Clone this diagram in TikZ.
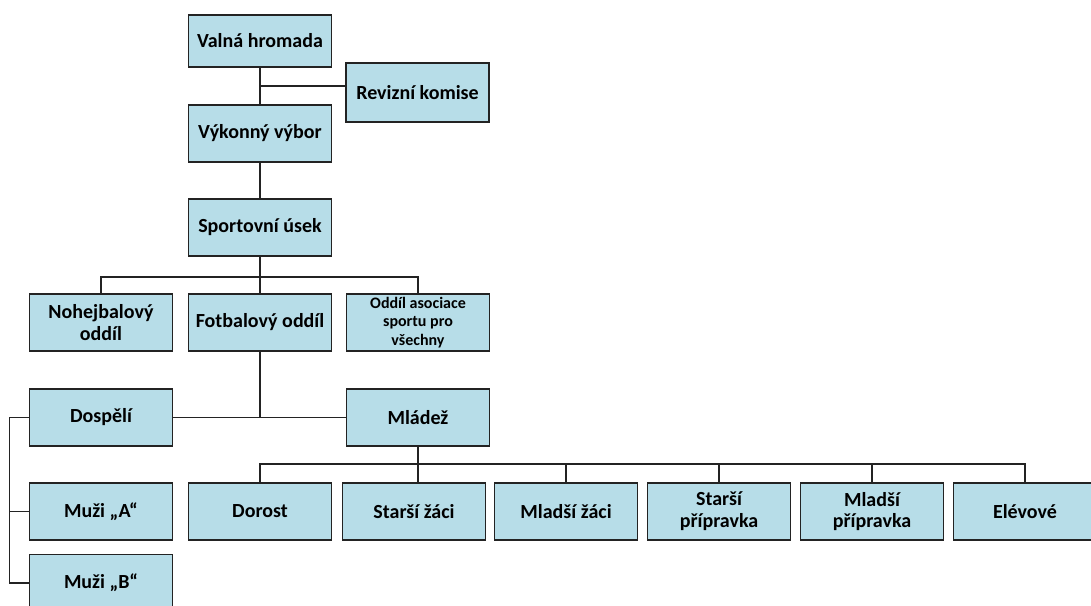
\documentclass[tikz,border=0pt]{standalone}
\usepackage{fontspec}
\setmainfont{Carlito}
\usetikzlibrary{positioning, calc}
\definecolor{boxblue}{RGB}{183, 221, 232}
\definecolor{edgegray}{RGB}{35, 35, 35}
\tikzset{
  orgbox/.style={draw=edgegray, fill=boxblue, line width=0.9pt, text=black,
    minimum width=107.25pt, minimum height=42.75pt, align=center, inner sep=2pt,
    font=\fontsize{15}{16.3}\selectfont\bfseries},
  smallbox/.style={orgbox, font=\fontsize{12}{14}\selectfont\bfseries},
  link/.style={draw=edgegray, line width=0.9pt}
}

\begin{document}
\begin{tikzpicture}[x=0.75pt, y=-0.75pt]
        \useasboundingbox (0,0) rectangle (1091,606);
        \clip (0,0) rectangle (1091,606);

        % ── Top: assembly, audit, board ─────────────────────────────────
        \node[orgbox, minimum height=39pt] (valna) at (260, 41) {Valná hromada};
        \node[orgbox, minimum height=44.25pt] (revizni) at (417.5, 92.5) {Revizní komise};
        \node[orgbox] (vykonny) at (260, 133.5) {Výkonný výbor};
        \node[orgbox] (sportovni) at (260, 227.5) {Sportovní úsek};

        % ── Divisions ───────────────────────────────────────────────────
        \node[orgbox] (nohejbal) at (101, 322.5) {Nohejbalový\\oddíl};
        \node[orgbox] (fotbal) at (260, 322.5) {Fotbalový oddíl};
        \node[smallbox] (asociace) at (418, 322.5) {Oddíl asociace\\sportu pro\\všechny};

        % ── Football: adults / youth ────────────────────────────────────
        \node[orgbox] (dospeli) at (101, 417.5) {Dospělí};
        \node[orgbox] (mladez) at (418, 417.5) {Mládež};
        \node[orgbox] (muzia) at (101, 511.5) {Muži „A“};
        \node[orgbox] (muzib) at (101, 583) {Muži „B“};

        % ── Youth teams ─────────────────────────────────────────────────
        \node[orgbox] (dorost) at (260, 511.5) {Dorost};
        \node[orgbox] (starsizaci) at (414, 511.5) {Starší žáci};
        \node[orgbox] (mladsizaci) at (566, 511.5) {Mladší žáci};
        \node[orgbox] (starsiprip) at (719, 511.5) {Starší\\přípravka};
        \node[orgbox] (mladsiprip) at (872, 511.5) {Mladší\\přípravka};
        \node[orgbox] (elevove) at (1025, 511.5) {Elévové};

        % ── Connectors ──────────────────────────────────────────────────
        \draw[link] (valna.south) -- (vykonny.north);
        \coordinate (revbus) at ($(valna.south)!0.5!(vykonny.north)$);
        \draw[link] (revbus) -- (revbus -| revizni.west);
        \draw[link] (vykonny.south) -- (sportovni.north);

        \coordinate (sportbus) at (0, 277);
        \draw[link] (nohejbal.north) |- (sportbus -| sportovni.south) -| (asociace.north);
        \draw[link] (sportovni.south) -- (fotbal.north);

        \draw[link] (dospeli.east) -- (mladez.west);
        \draw[link] (fotbal.south) -- (fotbal.south |- dospeli.east);

        \coordinate (leftbus) at (9.5, 0);
        \draw[link] (dospeli.west) -- (leftbus |- dospeli.west) -- (leftbus |- muzib.west) -- (muzib.west);
        \draw[link] (leftbus |- muzia.west) -- (muzia.west);

        \coordinate (youthbus) at (0, 464);
        \draw[link] (dorost.north) |- (youthbus -| elevove.north) -- (elevove.north);
        \draw[link] (mladez.south) -- (mladez.south |- starsizaci.north);
        \foreach \team in {mladsizaci, starsiprip, mladsiprip}{
        	\draw[link] (\team.north) -- (\team.north |- youthbus);
        }
\end{tikzpicture}
\end{document}
